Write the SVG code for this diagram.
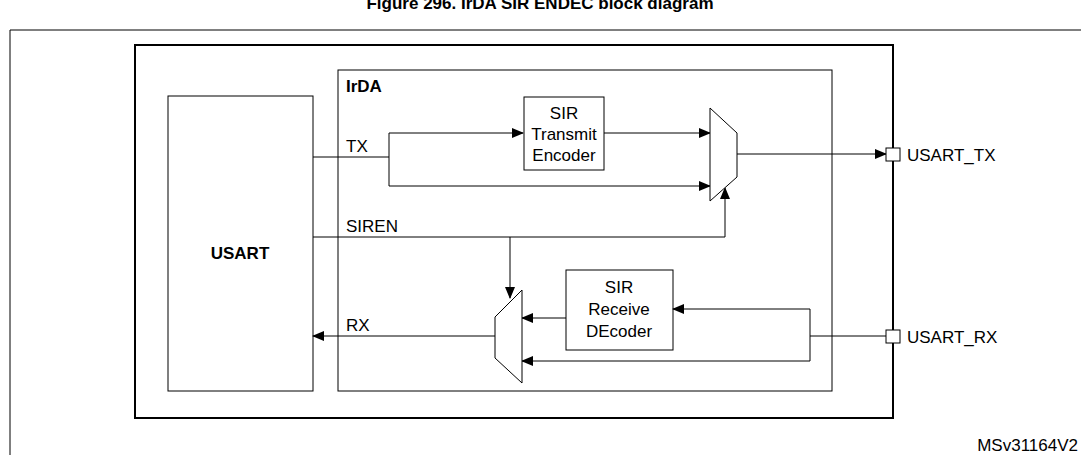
<svg xmlns="http://www.w3.org/2000/svg" width="1081" height="455" viewBox="0 0 1081 455">
<style>
text{font-family:"Liberation Sans",Arial,sans-serif;font-size:17px;fill:#000}
.b{font-weight:bold}
.box{fill:#fff;stroke:#000;stroke-width:1}
.ln{fill:none;stroke:#000;stroke-width:1}
</style>
<defs><marker id="a" markerWidth="12" markerHeight="10" refX="11" refY="5" orient="auto" markerUnits="userSpaceOnUse"><path d="M0,0 L12,5 L0,10z" fill="#000"/></marker></defs>
<rect width="1081" height="455" fill="#fff"/>
<text x="540" y="9" text-anchor="middle" class="b" font-size="18">Figure 296. IrDA SIR ENDEC  block diagram</text>
<path d="M10,455 V30 H1081" class="ln"/>
<rect x="135" y="45" width="758" height="373" fill="none" stroke="#000" stroke-width="2"/>
<g id="irda"><rect x="338" y="70" width="494" height="321" class="box"/><text x="346" y="92" class="b" font-size="16">IrDA</text></g>
<g id="usart"><rect x="168" y="96" width="145" height="295" class="box"/><text x="240" y="259" text-anchor="middle" class="b">USART</text></g>
<g id="enc"><rect x="524" y="97" width="80" height="73" class="box"/><text x="564" y="119" text-anchor="middle">SIR</text><text x="564" y="140" text-anchor="middle">Transmit</text><text x="564" y="161" text-anchor="middle">Encoder</text></g>
<g id="dec"><rect x="566" y="270" width="107" height="80" class="box"/><text x="619" y="293" text-anchor="middle">SIR</text><text x="619" y="315" text-anchor="middle">Receive</text><text x="619" y="337" text-anchor="middle">DEcoder</text></g>
<g id="connectors">
<path d="M313,157 H389 V133 H523" class="ln" marker-end="url(#a)"/>
<path d="M389,157 V186 H710" class="ln" marker-end="url(#a)"/>
<path d="M604,133 H710" class="ln" marker-end="url(#a)"/>
<path d="M737,154 H886" class="ln" marker-end="url(#a)"/>
<path d="M313,237 H725 V188" class="ln" marker-end="url(#a)"/>
<path d="M510,237 V298" class="ln" marker-end="url(#a)"/>
<path d="M886,336 H810 V309 H673" class="ln" marker-end="url(#a)"/>
<path d="M810,336 V361 H522" class="ln" marker-end="url(#a)"/>
<path d="M566,318 H522" class="ln" marker-end="url(#a)"/>
<path d="M495,336 H313" class="ln" marker-end="url(#a)"/>
</g>
<g id="muxtx"><path d="M710,108 L737,133 V177 L710,201z" class="box"/></g>
<g id="muxrx"><path d="M522,290 L495,317 V358 L522,383z" class="box"/></g>
<g id="ptx"><rect x="886" y="148" width="14" height="13" class="box"/><text x="907" y="161">USART_TX</text></g>
<g id="prx"><rect x="886" y="330" width="14" height="13" class="box"/><text x="907" y="343">USART_RX</text></g>
<text x="346" y="152">TX</text>
<text x="346" y="232">SIREN</text>
<text x="346" y="331">RX</text>
<text x="1078" y="451" text-anchor="end" font-size="12">MSv31164V2</text>
</svg>
